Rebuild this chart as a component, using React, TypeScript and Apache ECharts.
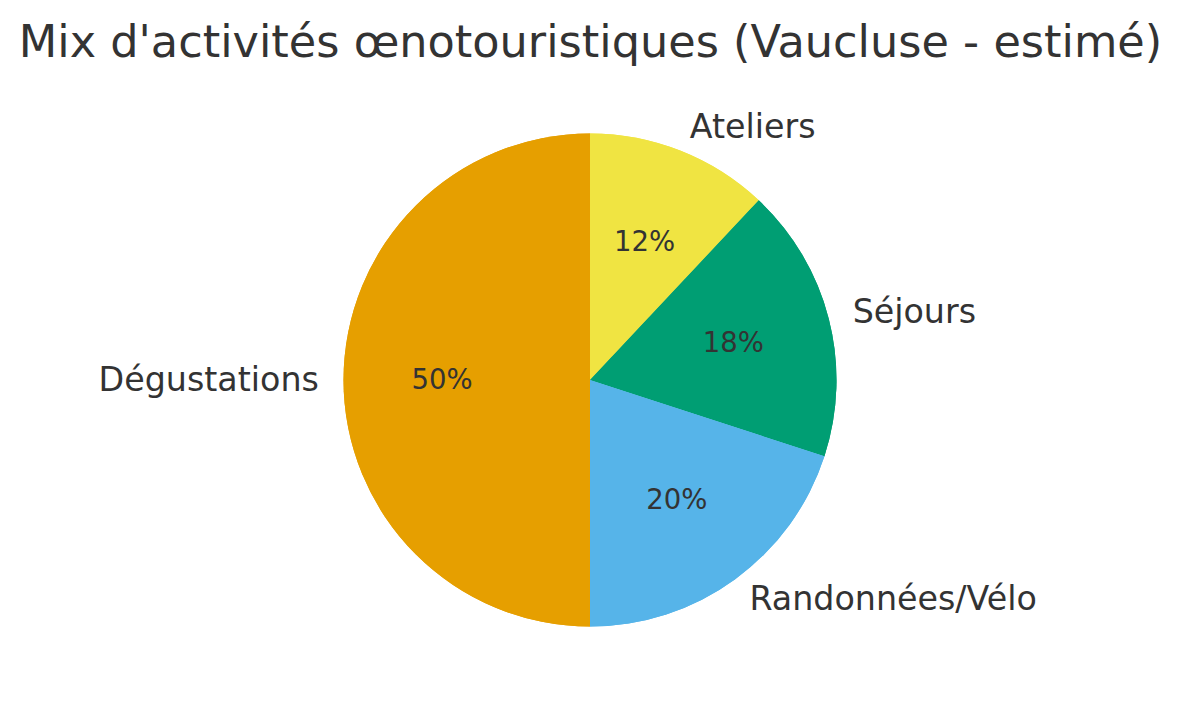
import React, { useEffect, useRef } from "react";
import * as echarts from "echarts";

const TITLE = "Mix d'activités œnotouristiques (Vaucluse - estimé)";
const categories = ["Ateliers", "Séjours", "Randonnées/Vélo", "Dégustations"];
const values = [12, 18, 20, 50];
const colors = ["#F0E442", "#009E73", "#56B4E9", "#E69F00"];

const W = 1181;
const H = 708;
const CX = 590;
const CY = 380;
const R = 246.5;
const FONT = "DejaVu Sans";
const TEXT = "#333333";

function midAngle(i: number): number {
  const total = values.reduce((a, b) => a + b, 0);
  let before = 0;
  for (let k = 0; k < i; k++) before += values[k];
  const mid = before + values[i] / 2;
  return ((90 - (mid / total) * 360) * Math.PI) / 180;
}

export default function App() {
  const ref = useRef<HTMLDivElement>(null);
  useEffect(() => {
    document.body.style.margin = "0";
    const chart = echarts.init(ref.current!, null, { renderer: "svg" });
    const data = categories.map((name, i) => ({
      name,
      value: values[i],
      itemStyle: { color: colors[i] },
    }));
    chart.setOption({
      animation: false,
      backgroundColor: "#ffffff",
      title: {
        text: TITLE,
        left: "center",
        top: 14,
        textStyle: { fontFamily: FONT, fontSize: 44.6, fontWeight: "normal", color: TEXT },
      },
      series: [
        {
          type: "pie",
          center: [CX, CY],
          radius: R,
          startAngle: 90,
          clockwise: true,
          data,
          silent: true,
          label: {
            show: true,
            position: "inside",
            formatter: "{b}",
            fontFamily: FONT,
            fontSize: 33.3,
            color: TEXT,
          },
          labelLine: { show: false },
          labelLayout: (p: any) => {
            const a = midAngle(p.dataIndex);
            const x = CX + 1.1 * R * Math.cos(a);
            const y = CY - 1.1 * R * Math.sin(a);
            return {
              x,
              y: y - 1,
              align: Math.cos(a) >= 0 ? "left" : "right",
              verticalAlign: "middle",
            };
          },
        },
        {
          type: "pie",
          center: [CX, CY],
          radius: R,
          startAngle: 90,
          clockwise: true,
          data,
          silent: true,
          label: {
            show: true,
            position: "inside",
            formatter: (p: any) => Math.round(p.percent) + "%",
            fontFamily: FONT,
            fontSize: 27.5,
            color: TEXT,
          },
          labelLine: { show: false },
          labelLayout: (p: any) => {
            const a = midAngle(p.dataIndex);
            return {
              x: CX + 0.6 * R * Math.cos(a),
              y: CY - 0.6 * R * Math.sin(a) - 1,
              align: "center",
              verticalAlign: "middle",
            };
          },
        },
      ],
    });
    return () => chart.dispose();
  }, []);
  return (
    <div
      ref={ref}
      style={{ position: "fixed", left: 0, top: 0, width: W, height: H }}
    />
  );
}
